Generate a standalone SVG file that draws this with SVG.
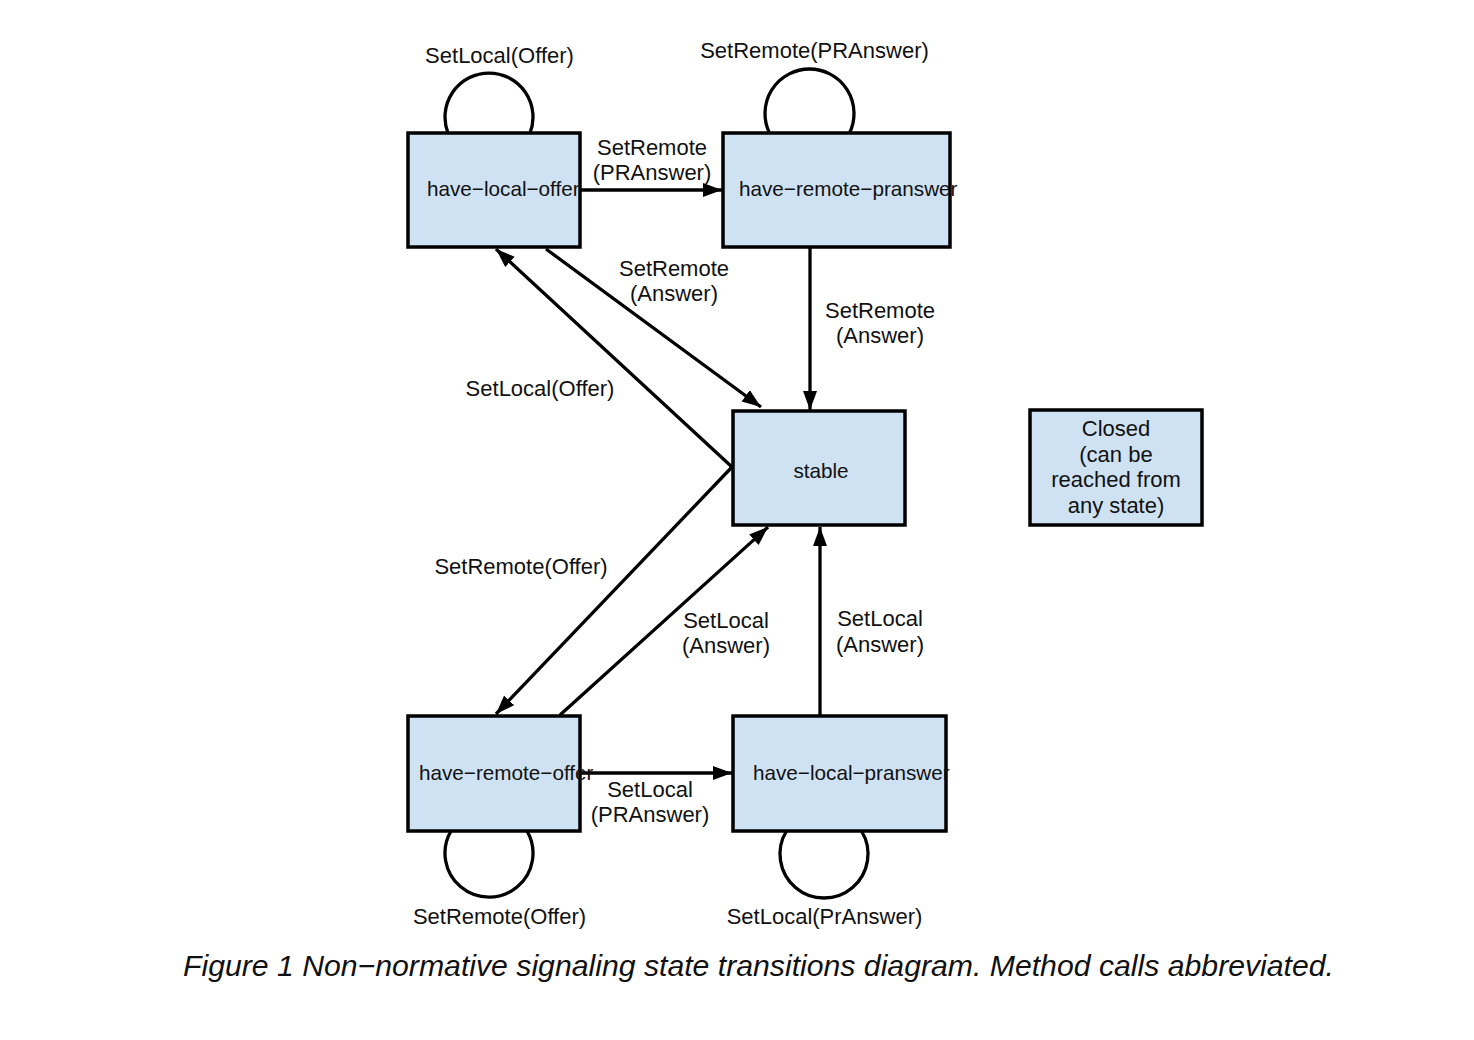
<svg xmlns="http://www.w3.org/2000/svg" width="1474" height="1040" viewBox="0 0 1474 1040">
<style>
.node rect{fill:#cfe2f3;stroke:#000;stroke-width:3.5}
.nl{font-family:"Liberation Sans",Arial,sans-serif;font-size:20.7px;fill:#111}
.el{font-family:"Liberation Sans",Arial,sans-serif;font-size:22px;fill:#111;text-anchor:middle}
#connectors path,#connectors line{fill:none;stroke:#000;stroke-width:3.3}
.cap{font-family:"Liberation Sans",Arial,sans-serif;font-size:29px;font-style:italic;fill:#111}
</style>
<defs>
<marker id="ah" markerUnits="userSpaceOnUse" markerWidth="20" markerHeight="16" refX="19" refY="7" orient="auto">
<path d="M0,0 L19,7 L0,14 z" fill="#000"/>
</marker>
</defs>
<rect width="1474" height="1040" fill="#fff"/>

<g id="connectors">
<line x1="581" y1="190" x2="722" y2="190" marker-end="url(#ah)"/>
<line x1="810" y1="248" x2="810" y2="410" marker-end="url(#ah)"/>
<line x1="546" y1="249" x2="761" y2="407" marker-end="url(#ah)"/>
<line x1="732" y1="467" x2="496" y2="249" marker-end="url(#ah)"/>
<line x1="732" y1="467" x2="496" y2="714" marker-end="url(#ah)"/>
<line x1="560" y1="715" x2="768" y2="527" marker-end="url(#ah)"/>
<line x1="820" y1="716" x2="820" y2="527" marker-end="url(#ah)"/>
<line x1="581" y1="773" x2="732" y2="773" marker-end="url(#ah)"/>
<path d="M448,133 A44,44 0 1 1 530,133"/>
<path d="M769.5,133 A44.5,44.5 0 1 1 849.5,133"/>
<path d="M451,831 A44,44 0 1 0 527,831"/>
<path d="M786.5,831 A44,44 0 1 0 861.5,831"/>
</g>

<g id="node-have-local-offer" class="node">
<rect x="408" y="133" width="172" height="114"/>
<text class="nl" x="427" y="196">have−local−offer</text>
</g>
<g id="node-have-remote-pranswer" class="node">
<rect x="723" y="133" width="227" height="114"/>
<text class="nl" x="739" y="196">have−remote−pranswer</text>
</g>
<g id="node-stable" class="node">
<rect x="733" y="411" width="172" height="114"/>
<text class="nl" x="821" y="478" text-anchor="middle">stable</text>
</g>
<g id="node-closed" class="node">
<rect x="1030" y="410" width="172" height="115"/>
<text class="el" x="1116" y="436">Closed</text>
<text class="el" x="1116" y="462">(can be</text>
<text class="el" x="1116" y="487">reached from</text>
<text class="el" x="1116" y="513">any state)</text>
</g>
<g id="node-have-remote-offer" class="node">
<rect x="408" y="716" width="172" height="115"/>
<text class="nl" x="419" y="780">have−remote−offer</text>
</g>
<g id="node-have-local-pranswer" class="node">
<rect x="733" y="716" width="213" height="115"/>
<text class="nl" x="753" y="780">have−local−pranswer</text>
</g>

<g id="edge-labels">
<text class="el" x="499.5" y="63">SetLocal(Offer)</text>
<text class="el" x="814.5" y="58">SetRemote(PRAnswer)</text>
<text class="el" x="652" y="155">SetRemote</text>
<text class="el" x="652" y="180">(PRAnswer)</text>
<text class="el" x="674" y="276">SetRemote</text>
<text class="el" x="674" y="301">(Answer)</text>
<text class="el" x="880" y="318">SetRemote</text>
<text class="el" x="880" y="343">(Answer)</text>
<text class="el" x="540" y="396">SetLocal(Offer)</text>
<text class="el" x="521" y="574">SetRemote(Offer)</text>
<text class="el" x="726" y="628">SetLocal</text>
<text class="el" x="726" y="653">(Answer)</text>
<text class="el" x="880" y="626">SetLocal</text>
<text class="el" x="880" y="652">(Answer)</text>
<text class="el" x="650" y="797">SetLocal</text>
<text class="el" x="650" y="822">(PRAnswer)</text>
<text class="el" x="499.5" y="924">SetRemote(Offer)</text>
<text class="el" x="824.5" y="924">SetLocal(PrAnswer)</text>
</g>

<text class="cap" x="183" y="976" textLength="1151" lengthAdjust="spacingAndGlyphs">Figure 1 Non−normative signaling state transitions diagram. Method calls abbreviated.</text>
</svg>
